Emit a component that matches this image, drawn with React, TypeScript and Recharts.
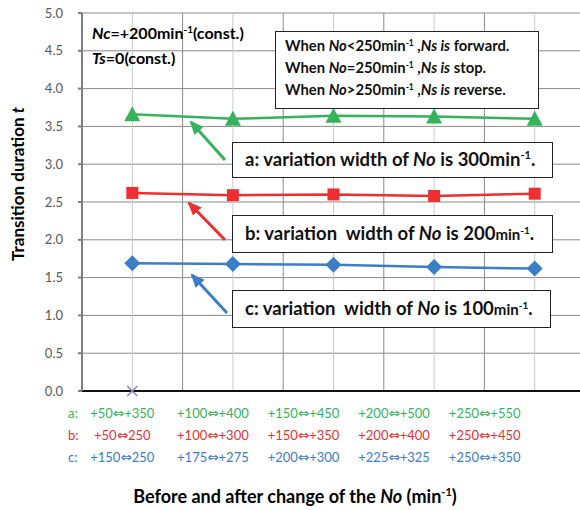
import React from "react";
import { ComposedChart, Line, XAxis, YAxis, CartesianGrid } from "recharts";

// categories (bottom label rows) and series values
const rowA = ["+50⇔+350", "+100⇔+400", "+150⇔+450", "+200⇔+500", "+250⇔+550"];
const rowB = ["+50⇔250", "+100⇔+300", "+150⇔+350", "+200⇔+400", "+250⇔+450"];
const rowC = ["+150⇔250", "+175⇔+275", "+200⇔+300", "+225⇔+325", "+250⇔+350"];
const seriesA = [3.66, 3.6, 3.64, 3.63, 3.6];
const seriesB = [2.62, 2.59, 2.6, 2.58, 2.61];
const seriesC = [1.69, 1.68, 1.67, 1.64, 1.62];
const seriesX = [0, null, null, null, null];
const yTicks = [0, 0.5, 1, 1.5, 2, 2.5, 3, 3.5, 4, 4.5, 5];

const GREEN = "#35b35a";
const RED = "#ee2f31";
const BLUE = "#3b7dc6";
const FONT = "Lato, 'Open Sans', sans-serif";

const data = rowA.map((cat, i) => ({
  cat,
  a: seriesA[i],
  b: seriesB[i],
  c: seriesC[i],
  x: seriesX[i],
}));

function Triangle(p: any) {
  if (p.cy == null) return <g key={p.key} />;
  const { cx, cy } = p;
  return (
    <path key={p.key} d={`M${cx},${cy - 8} L${cx + 8},${cy + 7} L${cx - 8},${cy + 7} Z`} fill={GREEN} />
  );
}

function Square(p: any) {
  if (p.cy == null) return <g key={p.key} />;
  return <rect key={p.key} x={p.cx - 6} y={p.cy - 6} width={12} height={12} fill={RED} />;
}

function Diamond(p: any) {
  if (p.cy == null) return <g key={p.key} />;
  const { cx, cy } = p;
  return (
    <path key={p.key} d={`M${cx},${cy - 8} L${cx + 8},${cy} L${cx},${cy + 8} L${cx - 8},${cy} Z`} fill={BLUE} />
  );
}

function Cross(p: any) {
  if (p.cy == null || p.value == null) return <g key={p.key} />;
  const { cx, cy } = p;
  return (
    <path
      key={p.key}
      d={`M${cx - 5},${cy - 5} L${cx + 5},${cy + 5} M${cx - 5},${cy + 5} L${cx + 5},${cy - 5}`}
      stroke="#8f80c4"
      strokeWidth={1.5}
    />
  );
}

// split "+50⇔+350" so the arrow can use a font that has it
function Pair({ s }: { s: string }) {
  const [l, r] = s.split("⇔");
  return (
    <>
      {l}
      <tspan fontFamily="'DejaVu Sans'" fontSize={13.5}>⇔</tspan>
      {r}
    </>
  );
}

function CatTick({ x, y, payload }: any) {
  const i = payload.index;
  const cx = x - 10 - i * 10;
  return (
    <g fontFamily={FONT} fontSize={13}>
      {i === 0 && (
        <>
          <text x={68} y={y + 27} fill={GREEN}>a:</text>
          <text x={68} y={y + 49} fill={RED}>b:</text>
          <text x={68} y={y + 71} fill={BLUE}>c:</text>
        </>
      )}
      <text x={cx} y={y + 27} textAnchor="middle" fill={GREEN}><Pair s={rowA[i]} /></text>
      <text x={cx} y={y + 49} textAnchor="middle" fill={RED}><Pair s={rowB[i]} /></text>
      <text x={cx} y={y + 71} textAnchor="middle" fill={BLUE}><Pair s={rowC[i]} /></text>
    </g>
  );
}

const bandCenters = ({ offset }: any) =>
  [0, 1, 2, 3, 4].map((i) => offset.left + ((i + 0.5) * offset.width) / 5);
const bandEdges = ({ offset }: any) =>
  [0, 1, 2, 3, 4, 5].map((i) => offset.left + (i * offset.width) / 5);

function Overlay() {
  return (
    <svg
      width={580}
      height={510}
      style={{ position: "absolute", left: 0, top: 0, pointerEvents: "none" }}
      fontFamily={FONT}
    >
      <defs>
        {[
          ["hg", GREEN],
          ["hr", RED],
          ["hb", BLUE],
        ].map(([id, c]) => (
          <marker
            key={id}
            id={id}
            markerUnits="userSpaceOnUse"
            markerWidth={14}
            markerHeight={12}
            refX={12}
            refY={6}
            orient="auto"
          >
            <path d="M0,0 L14,6 L0,12 Z" fill={c} />
          </marker>
        ))}
      </defs>

      {/* axis titles */}
      <text
        transform="translate(24,184) rotate(-90)"
        textAnchor="middle"
        fontWeight={700}
        fontSize={17}
        fill="#000"
      >
        Transition duration <tspan fontStyle="italic">t</tspan>
      </text>
      <text x={295} y={503} textAnchor="middle" fontWeight={700} fontSize={18} fill="#000">
        Before and after change of the <tspan fontStyle="italic">No</tspan> (min
        <tspan dy={-7} fontSize={11}>-1</tspan>
        <tspan dy={7}>)</tspan>
      </text>

      {/* condition notes */}
      <text x={92} y={39} fontWeight={700} fontSize={16} fill="#000">
        <tspan fontStyle="italic">Nc</tspan>=+200min
        <tspan dy={-6} fontSize={10}>-1</tspan>
        <tspan dy={6}>(const.)</tspan>
      </text>
      <text x={92} y={64} fontWeight={700} fontSize={16} fill="#000">
        <tspan fontStyle="italic">Ts</tspan>=0(const.)
      </text>

      <rect x={275.5} y={31.5} width={263} height={77} fill="#fff" stroke="#222" />
      <g fontWeight={700} fontSize={14.8} fill="#111">
        {[
          ["<", "forward."],
          ["=", "stop."],
          [">", "reverse."],
        ].map(([op, tail], k) => (
          <text key={k} x={285} y={51 + k * 22}>
            When <tspan fontStyle="italic">No</tspan>
            {op}250min
            <tspan dy={-5} fontSize={8.5}>-1</tspan>
            <tspan dy={5}> ,</tspan>
            <tspan fontStyle="italic">Ns is</tspan> {tail}
          </text>
        ))}
      </g>

      {/* arrows */}
      <line x1={225} y1={160} x2={191} y2={122} stroke={GREEN} strokeWidth={3} markerEnd="url(#hg)" />
      <line x1={225} y1={240} x2={189} y2={203} stroke={RED} strokeWidth={3} markerEnd="url(#hr)" />
      <line x1={227} y1={313} x2={192} y2={275} stroke={BLUE} strokeWidth={3} markerEnd="url(#hb)" />

      {/* series callouts */}
      <g fontWeight={700} fontSize={18.5} fill="#111">
        <rect x={232.5} y={142.5} width={320} height={35} fill="#fff" stroke="#222" />
        <text x={245} y={166}>
          a: variation width of <tspan fontStyle="italic">No</tspan> is 300min
          <tspan dy={-7} fontSize={11}>-1</tspan>
          <tspan dy={7}>.</tspan>
        </text>
        <rect x={232.5} y={215.5} width={320} height={37} fill="#fff" stroke="#222" />
        <text x={245} y={240}>
          {"b: variation\u00a0 width of "}
          <tspan fontStyle="italic">No</tspan> is 200
          <tspan fontSize={15}>min</tspan>
          <tspan dy={-6} fontSize={10}>-1</tspan>
          <tspan dy={6}>.</tspan>
        </text>
        <rect x={232.5} y={290.5} width={318} height={37} fill="#fff" stroke="#222" />
        <text x={245} y={315}>
          {"c: variation\u00a0 width of "}
          <tspan fontStyle="italic">No</tspan> is 100
          <tspan fontSize={15}>min</tspan>
          <tspan dy={-6} fontSize={10}>-1</tspan>
          <tspan dy={6}>.</tspan>
        </text>
      </g>
    </svg>
  );
}

export default function App() {
  return (
    <div
      style={{
        position: "absolute",
        left: 0,
        top: 0,
        width: 580,
        height: 510,
        overflow: "hidden",
        background: "#fff",
      }}
    >
      <ComposedChart
        width={600}
        height={510}
        data={data}
        margin={{ top: 13, right: 15, left: 0, bottom: 0 }}
      >
        <CartesianGrid vertical={false} stroke="#8a8a8a" />
        <CartesianGrid horizontal={false} stroke="#c9c9c9" verticalCoordinatesGenerator={bandCenters} />
        <CartesianGrid horizontal={false} stroke="#8a8a8a" verticalCoordinatesGenerator={bandEdges} />
        <XAxis
          dataKey="cat"
          scale="band"
          interval={0}
          height={119}
          tickLine={false}
          tickSize={0}
          tickMargin={0}
          axisLine={{ stroke: "#111", strokeWidth: 2 }}
          tick={<CatTick />}
        />
        <YAxis
          type="number"
          domain={[0, 5]}
          ticks={yTicks}
          interval={0}
          width={82}
          tickSize={4}
          tickMargin={15}
          tickFormatter={(v) => Number(v).toFixed(1)}
          tick={{ fontSize: 13, fill: "#595959", fontFamily: FONT }}
          tickLine={{ stroke: "#7f7f7f", strokeWidth: 2 }}
          axisLine={{ stroke: "#7f7f7f", strokeWidth: 2 }}
        />
        <Line dataKey="a" stroke={GREEN} strokeWidth={2.5} type="linear" dot={Triangle} isAnimationActive={false} />
        <Line dataKey="b" stroke={RED} strokeWidth={2.5} type="linear" dot={Square} isAnimationActive={false} />
        <Line dataKey="c" stroke={BLUE} strokeWidth={2.5} type="linear" dot={Diamond} isAnimationActive={false} />
        <Line dataKey="x" stroke="none" type="linear" dot={Cross} isAnimationActive={false} />
      </ComposedChart>
      <Overlay />
    </div>
  );
}
